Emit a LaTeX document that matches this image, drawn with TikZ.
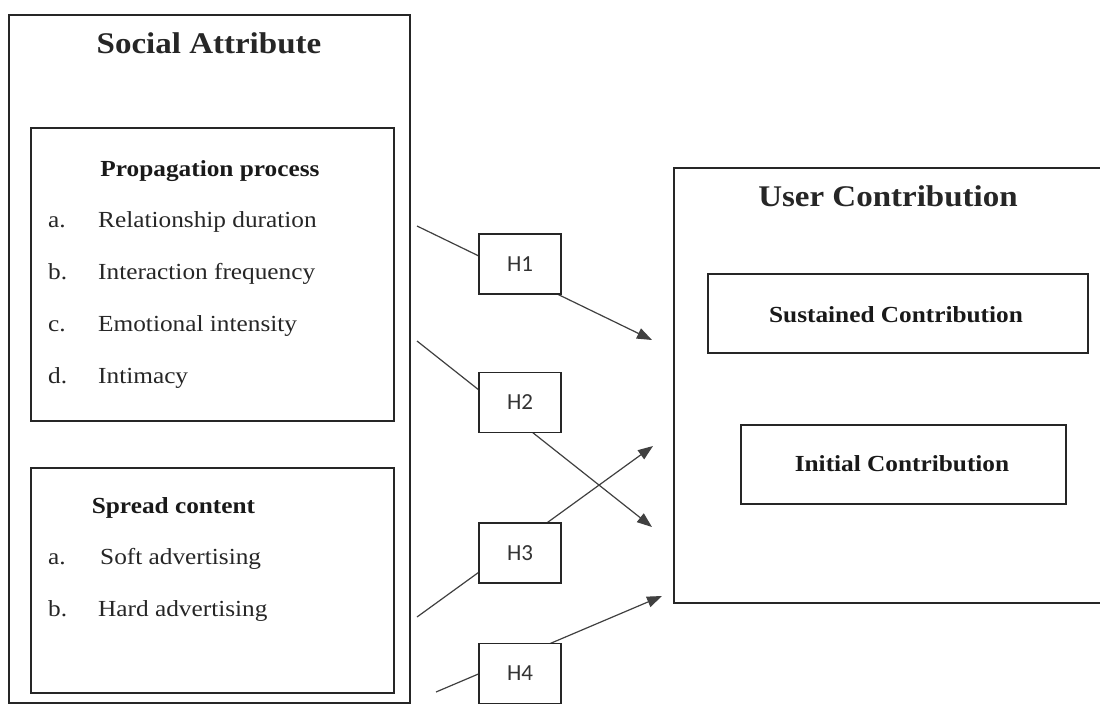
\documentclass[tikz,border=0pt]{standalone}
\usepackage{fontspec}
\setmainfont[FakeStretch=1.1]{Liberation Serif}
\newfontfamily\hfont{Carlito}
\usetikzlibrary{arrows.meta}
\pgfdeclarelayer{bg}
\pgfsetlayers{bg,main}
\begin{document}
\begin{tikzpicture}[x=1pt,y=-1pt,
  box/.style={draw=black!85, line width=1.3pt, inner sep=0pt, rectangle},
  hbox/.style={box, fill=white, minimum width=82pt, minimum height=60pt, font=\hfont\fontsize{23}{27}\selectfont, text=black!80},
  title/.style={anchor=base, inner sep=0pt, font=\fontsize{30}{36}\selectfont\bfseries, text=black!85},
  subtitle/.style={anchor=base, inner sep=0pt, font=\fontsize{23}{28}\selectfont\bfseries, text=black!90},
  item/.style={anchor=base west, inner sep=0pt, font=\fontsize{23}{28}\selectfont, text=black!85},
  conn/.style={draw=black!75, line width=1.2pt, -{Triangle[length=15pt,width=11pt]}}
]
\useasboundingbox (0,0) rectangle (1100,707);

% left side
\node[box, minimum width=401pt, minimum height=688pt] (social) at (209.5,359) {};
\node[title] (socialT) at (209,53) {Social Attribute};
\node[box, minimum width=363pt, minimum height=293pt] (prop) at (212.5,274.5) {};
\node[subtitle] (propT) at (210,176) {Propagation process};
\node[item] (pa) at (48,227) {a.};
\node[item] (pat) at (98,227) {Relationship duration};
\node[item] (pb) at (48,279) {b.};
\node[item] (pbt) at (98,279) {Interaction frequency};
\node[item] (pc) at (48,331) {c.};
\node[item] (pct) at (98,331) {Emotional intensity};
\node[item] (pd) at (48,383) {d.};
\node[item] (pdt) at (98,383) {Intimacy};

\node[box, minimum width=363pt, minimum height=225pt] (spread) at (212.5,580.5) {};
\node[subtitle] (spreadT) at (173.5,513) {Spread content};
\node[item] (sa) at (48,564) {a.};
\node[item] (sat) at (100,564) {Soft advertising};
\node[item] (sb) at (48,616) {b.};
\node[item] (sbt) at (98,616) {Hard advertising};

% right side
\node[box, minimum width=436pt, minimum height=435pt] (user) at (892,385.5) {};
\node[title] (userT) at (888,206) {User Contribution};
\node[box, minimum width=380pt, minimum height=79pt] (sust) at (898,313.5) {};
\node[subtitle] (sustT) at (896,322) {Sustained Contribution};
\node[box, minimum width=325pt, minimum height=79pt] (init) at (903.5,464.5) {};
\node[subtitle] (initT) at (902,471) {Initial Contribution};

% hypothesis boxes
\node[hbox] (h1) at (520,264) {H1};
\node[hbox] (h2) at (520,402.5) {H2};
\node[hbox] (h3) at (520,553) {H3};
\node[hbox] (h4) at (520,673.5) {H4};

% connector ends
\coordinate (s1) at (417,226);
\coordinate (t1) at (652,340);
\coordinate (s2) at (417,341);
\coordinate (t2) at (652,527);
\coordinate (s3) at (417,617);
\coordinate (t3) at (653,446);
\coordinate (s4) at (436,692);
\coordinate (t4) at (662,596);

\begin{pgfonlayer}{bg}
\fill[white] (0,0) rectangle (1100,707);
\draw[conn] (s1) -- (t1);
\draw[conn] (s2) -- (t2);
\draw[conn] (s3) -- (t3);
\draw[conn] (s4) -- (t4);
\end{pgfonlayer}
\end{tikzpicture}
\end{document}
